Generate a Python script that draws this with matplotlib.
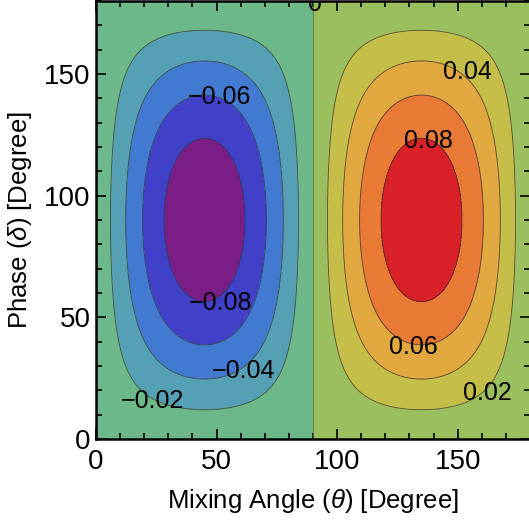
import numpy as np
import matplotlib
matplotlib.use("Agg")
import matplotlib.pyplot as plt
from matplotlib.ticker import MultipleLocator

plt.rcParams['font.family'] = ['Liberation Sans', 'DejaVu Sans']
plt.rcParams['mathtext.fontset'] = 'custom'
plt.rcParams['mathtext.it'] = 'Liberation Sans:italic'

# surface: amplitude * sin(2 theta) * sin(delta)
amplitude = -0.096
theta = np.linspace(0, 180, 361)
delta = np.linspace(0, 180, 361)

levels = [-0.2, -0.08, -0.06, -0.04, -0.02, 0.0, 0.02, 0.04, 0.06, 0.08, 0.2]
fill_colors = ['#7b1d87', '#4040c8', '#4279d1', '#55a0b5', '#6db88a',
               '#9bbf5e', '#c4be48', '#e0a83e', '#e87a35', '#d92127']
line_levels = [-0.08, -0.06, -0.04, -0.02, 0.02, 0.04, 0.06, 0.08]

# contour label positions (theta, delta)
label_values = [0.0, -0.06, -0.08, -0.04, -0.02, 0.04, 0.08, 0.06, 0.02]
label_pos = [(91, 178.8), (51, 140.5), (51.5, 56), (61, 28), (23.5, 15.5),
             (154, 151), (138, 122.5), (131.5, 38), (162.5, 19)]

T, D = np.meshgrid(theta, delta)
Z = amplitude * np.sin(np.radians(2 * T)) * np.sin(np.radians(D))

fig = plt.figure(figsize=(5.29, 5.25), dpi=100)
ax = fig.add_axes([96 / 529, 86 / 525, 434 / 529, 438 / 525])

ax.contourf(T, D, Z, levels=levels, colors=fill_colors)
ax.contour(T, D, Z, levels=line_levels, colors='#333333', linewidths=0.6,
           alpha=0.8, linestyles='solid')
ax.axvline(90, color='#4f7a4a', lw=0.8, alpha=0.8)

for v, (x, y) in zip(label_values, label_pos):
    s = '0' if v == 0 else f'{v:.2f}'.replace('-', '\u2212')
    ax.text(x, y, s, fontsize=18, ha='center', va='center', clip_on=True)

ax.set_xlim(0, 180)
ax.set_ylim(0, 180)
ax.xaxis.set_major_locator(MultipleLocator(50))
ax.yaxis.set_major_locator(MultipleLocator(50))
ax.xaxis.set_minor_locator(MultipleLocator(10))
ax.yaxis.set_minor_locator(MultipleLocator(10))
ax.tick_params(which='both', direction='in', top=True, right=True, labelsize=20, width=1.2)
ax.tick_params(which='major', length=7)
ax.tick_params(which='minor', length=4)
ax.tick_params(axis='x', which='major', pad=7)
ax.tick_params(axis='y', which='major', pad=4)
for sp in ax.spines.values():
    sp.set_linewidth(1.8)

ax.set_xlabel(r'Mixing Angle ($\theta$) [Degree]', fontsize=18.5, labelpad=9)
ax.set_ylabel(r'Phase ($\delta$) [Degree]', fontsize=18.5, labelpad=7)

fig.savefig('out.png', dpi=100)
